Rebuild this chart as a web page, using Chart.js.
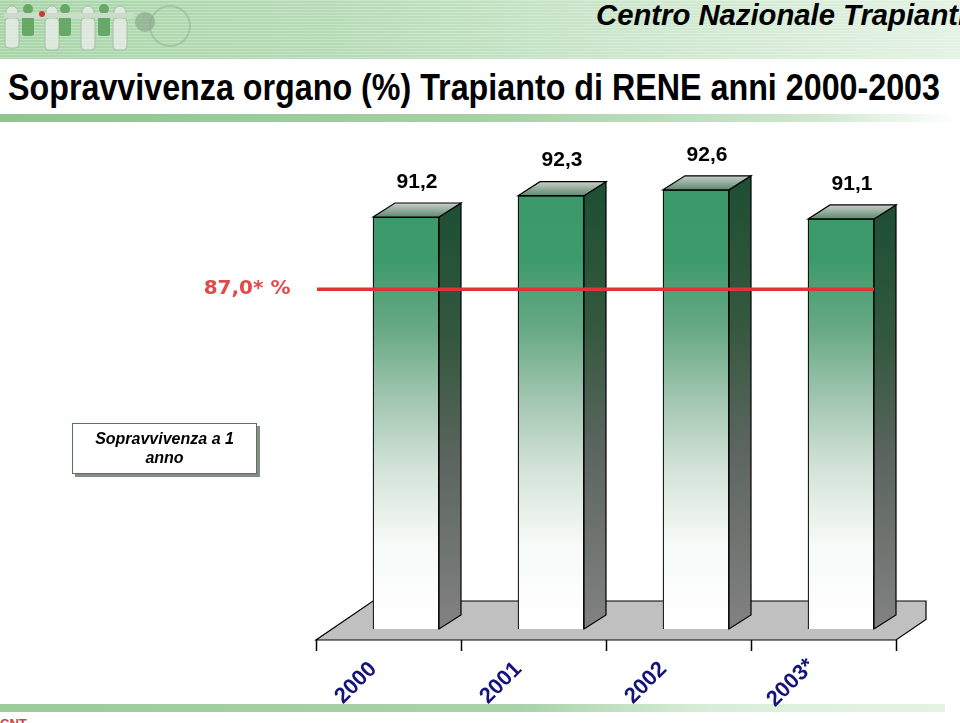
<!DOCTYPE html>
<html>
<head>
<meta charset="utf-8">
<script src="https://cdn.jsdelivr.net/npm/chart.js@4.4.1/dist/chart.umd.min.js"></script>
<style>
  html, body { margin:0; padding:0; background:#fff; }
  body { width:960px; height:723px; position:relative; overflow:hidden; font-family:"Liberation Sans", Arial, sans-serif; }
  #banner { position:absolute; left:0; top:0; width:960px; height:59px;
    background:
      repeating-linear-gradient(180deg, rgba(255,255,255,0.28) 0px, rgba(255,255,255,0.28) 1px, rgba(0,0,0,0) 1px, rgba(0,0,0,0) 3px),
      linear-gradient(90deg, #a9d5a9 0%, #b5dbb5 35%, #cfe8cf 70%, #e3f2e3 100%); }
  #logo { position:absolute; left:0; top:0; }
  #cnt { position:absolute; left:596px; top:-2px; white-space:nowrap; font-weight:bold; font-style:italic;
    font-size:29px; line-height:34px; color:#000; transform-origin:0 0;
    font-family:"Liberation Sans Narrow","Liberation Sans",Arial,sans-serif; }
  #title { position:absolute; left:8px; top:66px; white-space:nowrap; font-weight:bold; font-size:36px; line-height:44px;
    color:#000; transform-origin:0 0; font-family:"Liberation Sans Narrow","Liberation Sans",Arial,sans-serif; }
  #band1 { position:absolute; left:0; top:114px; width:960px; height:8px;
    background:linear-gradient(90deg, #8fc48f 0%, #a6d0a6 50%, #cfe7cf 85%, #ffffff 100%); }
  #band2 { position:absolute; left:0; top:704px; width:945px; height:8px;
    background:linear-gradient(90deg, #9ccb9c 0%, #a9d2a9 55%, #d8eed8 75%, #e4f3e4 100%); }
  #foot { position:absolute; left:0; top:716px; font-size:13px; color:#c44; font-weight:bold; white-space:nowrap; }
  #box { position:absolute; left:72px; top:423px; width:183px; border:1px solid #4d7c4d; background:#fff;
    box-shadow:3px 3px 0 #8a8a8a; text-align:center; font-weight:bold; font-style:italic; font-size:16px; line-height:19px;
    padding-top:5px; box-sizing:content-box; height:44px; }
  #chart { position:absolute; left:0; top:0; }
</style>
</head>
<body>
<div id="banner"></div>
<svg id="logo" width="220" height="59" viewBox="0 0 220 59">
  <g opacity="0.85">
    <circle cx="170" cy="26" r="20" fill="none" stroke="#8fb08f" stroke-width="2" opacity="0.6"/>
    <g fill="#e6ece6" stroke="#9ab09a" stroke-width="0.8">
      <circle cx="12" cy="12" r="6"/><rect x="5" y="18" width="14" height="30" rx="4"/>
      <circle cx="52" cy="12" r="6"/><rect x="45" y="18" width="14" height="32" rx="4"/>
      <circle cx="88" cy="12" r="6"/><rect x="81" y="18" width="14" height="32" rx="4"/>
      <circle cx="120" cy="12" r="6"/><rect x="113" y="18" width="14" height="32" rx="4"/>
    </g>
    <g fill="#5aa05a">
      <circle cx="28" cy="9" r="5"/><rect x="22" y="14" width="12" height="22" rx="3"/>
      <circle cx="65" cy="9" r="5"/><rect x="59" y="14" width="12" height="22" rx="3"/>
      <circle cx="104" cy="9" r="5"/><rect x="98" y="14" width="12" height="22" rx="3"/>
    </g>
    <rect x="4" y="13" width="130" height="5" fill="#cfdccf"/>
    <circle cx="42" cy="14" r="3" fill="#d02020"/>
    <circle cx="145" cy="22" r="10" fill="#7f9a7f" opacity="0.6"/>
  </g>
</svg>
<div id="cnt"><span id="cntfit">Centro Nazionale Trapiant</span>i</div>
<div id="title">Sopravvivenza organo (%) Trapianto di RENE anni 2000-2003</div>
<div id="band1"></div>
<div id="band2"></div>
<div id="foot">CNT</div>
<canvas id="chart" width="960" height="723"></canvas>
<div id="box">Sopravvivenza a 1<br>anno</div>
<script>
// ---- data ----
const categories = ['2000', '2001', '2002', '2003*'];
const survival = [91.2, 92.3, 92.6, 91.1];
const valueLabels = ['91,2', '92,3', '92,6', '91,1'];
const referenceValue = 87.0;
const referenceLabel = '87,0* %';
const yMin = 70;
const yMax = 100;

// fit header texts
(function(){
  const t = document.getElementById('title');
  const w = t.getBoundingClientRect().width;
  t.style.transform = 'scaleX(' + (932 / w) + ')';
  const c = document.getElementById('cnt');
  const cw = document.getElementById('cntfit').getBoundingClientRect().width;
  c.style.transform = 'scaleX(' + (362 / cw) + ')';
})();

const DEPTH_X = 22, DEPTH_Y = 14;       // bar depth
const FLOOR_DX = 57, FLOOR_DY = 39;     // floor depth
const FLOOR_FRONT_DX = -17.5, FLOOR_FRONT_DY = 11;

function frontGradient(ctx, area) {
  const g = ctx.createLinearGradient(0, area.top, 0, area.bottom);
  const h = area.bottom - area.top;
  const at = y => Math.min(1, Math.max(0, (y - area.top) / h));
  g.addColorStop(0, '#379866');
  g.addColorStop(at(260), '#3d9a6b');
  g.addColorStop(at(330), '#68aa85');
  g.addColorStop(at(400), '#a2c6b1');
  g.addColorStop(at(470), '#d4e3d9');
  g.addColorStop(at(545), '#f7faf8');
  g.addColorStop(1, '#ffffff');
  return g;
}

const decor = {
  id: 'decor',
  beforeDatasetsDraw(chart) {
    const ctx = chart.ctx, x = chart.scales.x, y = chart.scales.y;
    const base = y.getPixelForValue(yMin);
    const fy = base + FLOOR_FRONT_DY, by = fy - FLOOR_DY;
    const lf = x.left + FLOOR_FRONT_DX, rf = x.right + FLOOR_FRONT_DX;
    const clipX = rf + 30;
    ctx.save();
    ctx.beginPath();
    ctx.moveTo(lf, fy);
    ctx.lineTo(rf, fy);
    const cy = fy - (clipX - rf) * FLOOR_DY / FLOOR_DX;
    ctx.lineTo(clipX, cy);
    ctx.lineTo(clipX, by);
    ctx.lineTo(lf + FLOOR_DX, by);
    ctx.closePath();
    ctx.fillStyle = '#c0c0c0';
    ctx.fill();
    ctx.strokeStyle = '#000';
    ctx.lineWidth = 1.2;
    ctx.stroke();
    // ticks
    const step = (rf - lf) / categories.length;
    ctx.beginPath();
    for (let i = 0; i <= categories.length; i++) {
      const tx = Math.round(lf + i * step) + 0.5;
      ctx.moveTo(tx, fy);
      ctx.lineTo(tx, fy + 11);
    }
    ctx.lineWidth = 1.5;
    ctx.stroke();
    ctx.restore();
  },
  afterDatasetsDraw(chart) {
    const ctx = chart.ctx, x = chart.scales.x, y = chart.scales.y;
    const meta = chart.getDatasetMeta(0);
    const yb = y.getPixelForValue(yMin);
    ctx.save();
    ctx.lineWidth = 1.2;
    ctx.strokeStyle = '#000';
    meta.data.forEach((bar, i) => {
      const xl = bar.x - bar.width / 2, xr = bar.x + bar.width / 2;
      const yt = bar.y;
      // side face
      let g = ctx.createLinearGradient(0, yt, 0, yb);
      g.addColorStop(0, '#1f5035');
      g.addColorStop(0.3, '#34583f');
      g.addColorStop(0.6, '#5d6660');
      g.addColorStop(1, '#828282');
      ctx.beginPath();
      ctx.moveTo(xr, yt); ctx.lineTo(xr + DEPTH_X, yt - DEPTH_Y);
      ctx.lineTo(xr + DEPTH_X, yb - DEPTH_Y); ctx.lineTo(xr, yb); ctx.closePath();
      ctx.fillStyle = g; ctx.fill(); ctx.stroke();
      // top face
      g = ctx.createLinearGradient(0, yt - DEPTH_Y, 0, yt);
      g.addColorStop(0, '#c9cfc9');
      g.addColorStop(1, '#5e8a70');
      ctx.beginPath();
      ctx.moveTo(xl, yt); ctx.lineTo(xl + DEPTH_X, yt - DEPTH_Y);
      ctx.lineTo(xr + DEPTH_X, yt - DEPTH_Y); ctx.lineTo(xr, yt); ctx.closePath();
      ctx.fillStyle = g; ctx.fill(); ctx.stroke();
      // value label
      ctx.fillStyle = '#000';
      ctx.font = 'bold 21px "Liberation Sans", Arial, sans-serif';
      ctx.textAlign = 'center'; ctx.textBaseline = 'middle';
      ctx.fillText(valueLabels[i], bar.x + DEPTH_X / 2, yt - 35);
      // category label
      ctx.save();
      ctx.translate(bar.x - 50, 683);
      ctx.rotate(-Math.PI / 4);
      ctx.fillStyle = '#14147a';
      ctx.font = 'bold 22px "Liberation Sans", Arial, sans-serif';
      ctx.fillText(categories[i], 0, 0);
      ctx.restore();
    });
    // reference line (drawn at the mid-depth plane of the bars)
    const ry = y.getPixelForValue(referenceValue) - DEPTH_Y / 2 - 2.5;
    const last = meta.data[meta.data.length - 1];
    ctx.beginPath();
    ctx.moveTo(x.left - 16.5, ry);
    ctx.lineTo(last.x + last.width / 2, ry);
    ctx.strokeStyle = '#e03333';
    ctx.lineWidth = 3.5;
    ctx.stroke();
    ctx.fillStyle = '#e44848';
    ctx.font = 'bold 20px "DejaVu Sans", Verdana, sans-serif';
    ctx.textAlign = 'right'; ctx.textBaseline = 'middle';
    ctx.fillText(referenceLabel, x.left - 43, ry);
    ctx.restore();
  }
};

new Chart(document.getElementById('chart'), {
  type: 'bar',
  data: {
    labels: categories,
    datasets: [{
      data: survival,
      backgroundColor: (c) => {
        const a = c.chart.chartArea;
        if (!a) return '#3a9a6a';
        return frontGradient(c.chart.ctx, a);
      },
      borderColor: '#000',
      borderWidth: 1.2,
      barThickness: 66
    }]
  },
  options: {
    responsive: false,
    animation: false,
    devicePixelRatio: 1,
    layout: { padding: { left: 333.5, right: 46.5, top: 46, bottom: 94 } },
    scales: {
      x: { display: false },
      y: { display: false, min: yMin, max: yMax }
    },
    plugins: { legend: { display: false }, tooltip: { enabled: false } }
  },
  plugins: [decor]
});
</script>
</body>
</html>
